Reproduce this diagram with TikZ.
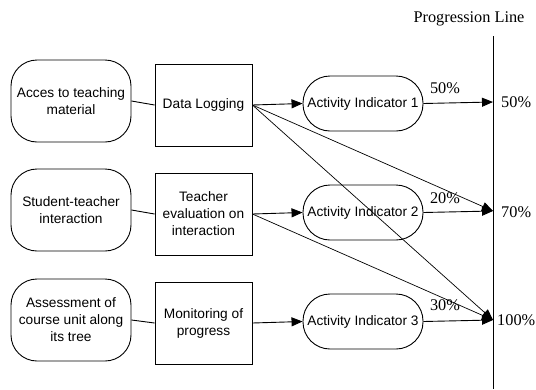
\documentclass[tikz,border=0pt]{standalone}
\usepackage{fontspec}
\setmainfont{Liberation Serif}
\newfontfamily\nodefont{Liberation Sans}
\usetikzlibrary{arrows.meta}
\begin{document}
\begin{tikzpicture}[x=1pt,y=-1pt,
  every node/.style={inner sep=0pt},
  source/.style={draw,line width=0.9pt,rounded corners=26pt,minimum width=120pt,minimum height=82pt,
    align=center,font=\nodefont\fontsize{13.7}{17}\selectfont},
  task/.style={draw,line width=0.9pt,minimum width=97pt,minimum height=82pt,
    align=center,font=\nodefont\fontsize{13.7}{17}\selectfont},
  indicator/.style={draw,line width=0.9pt,rounded corners=27pt,minimum width=120pt,minimum height=55pt,
    align=center,font=\nodefont\fontsize{13.7}{17}\selectfont},
  pct/.style={font=\fontsize{16.3}{18}\selectfont},
  link/.style={line width=0.9pt},
  flow/.style={line width=0.9pt,-{Triangle[length=11pt,width=9pt]}},
  thin link/.style={line width=0.7pt,-{Triangle[length=11pt,width=9pt]}}]
\useasboundingbox (0,0) rectangle (536,389);

% sources
\node[source] (s1) at (71,101) {Acces to teaching\\material};
\node[source] (s2) at (71,210) {Student-teacher\\interaction};
\node[source] (s3) at (71,320) {Assessment of\\course unit along\\its tree};

% processing steps
\node[task] (t1) at (203.5,105) {Data Logging};
\node[task] (t2) at (203.5,214) {Teacher\\evaluation on\\interaction};
\node[task] (t3) at (203.5,323) {Monitoring of\\progress};

% activity indicators
\node[indicator] (a1) at (363,103.5) {Activity Indicator 1};
\node[indicator] (a2) at (363,212.5) {Activity Indicator 2};
\node[indicator] (a3) at (363,321.5) {Activity Indicator 3};

% progression line
\coordinate (ptop) at (493,36);
\coordinate (pbot) at (493,389);
\draw[link] (ptop) -- (pbot);
\node[pct] (ptitle) at (469,19) {Progression Line};

\coordinate (p50) at (493,102);
\coordinate (p70) at (493,211);
\coordinate (p100) at (493,320);

\node[pct,anchor=west] (l50) at (501,102) {50\%};
\node[pct,anchor=west] (l70) at (501,212) {70\%};
\node[pct,anchor=west] (l100) at (497,320) {100\%};

% connectors
\draw[link] (s1.east) -- (t1.west);
\draw[link] (s2.east) -- (t2.west);
\draw[link] (s3.east) -- (t3.west);

\draw[flow] (t1.east) -- (a1.west);
\draw[flow] (t2.east) -- (a2.west);
\draw[flow] (t3.east) -- (a3.west);

\draw[flow] (a1.east) -- (p50);
\draw[flow] (a2.east) -- (p70);
\draw[flow] (a3.east) -- (p100);

\draw[thin link] (t1.east) -- (p70);
\draw[thin link] (t1.east) -- (p100);
\draw[thin link] (t2.east) -- (p100);

% weights
\node[pct] (w1) at (445,88) {50\%};
\node[pct] (w2) at (445,198) {20\%};
\node[pct] (w3) at (445,305) {30\%};
\end{tikzpicture}
\end{document}
